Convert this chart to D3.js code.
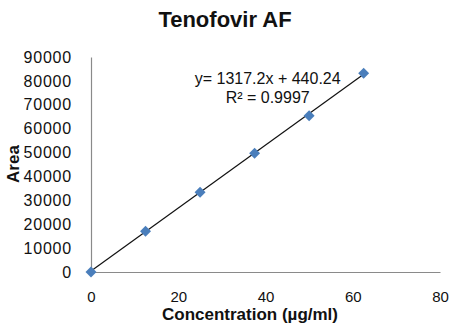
<!DOCTYPE html>
<html lang="en">
  <head>
    <meta charset="UTF-8" />
    <title>Tenofovir AF</title>
    <style>
      body { margin: 0; background: #fff; }
      text { font-family: "Liberation Sans", Arial, Helvetica, sans-serif; fill: #111; }
      .axis path { stroke: #8a8a8a; stroke-width: 1.2; }
      .axis text { fill: #111; }
    </style>
  </head>
  <body>
    <div id="chart"></div>

    <script src="https://cdn.jsdelivr.net/npm/d3@7"></script>
    <script>
    // data
    var concentration = [0, 12.5, 25, 37.5, 50, 62.5];
    var area = [0, 17100, 33400, 49700, 65400, 83200];
    var xTicks = [0, 20, 40, 60, 80];
    var yTicks = [0, 10000, 20000, 30000, 40000, 50000, 60000, 70000, 80000, 90000];
    var slope = 1317.2;
    var intercept = 440.24;
    var equationLabel = "y= 1317.2x + 440.24";
    var r2Label = "R² = 0.9997";

    var w = 450;
    var h = 328;

    var svg = d3.select("#chart")
                .append("svg")
                .attr("width", w)
                .attr("height", h);

    var xScale = d3.scaleLinear()
                   .domain([0, 80])
                   .range([91, 440]);

    var yScale = d3.scaleLinear()
                   .domain([0, 90000])
                   .range([272, 57]);

    // x axis
    var xAxis = d3.axisBottom(xScale)
                  .tickValues(xTicks)
                  .tickSize(0)
                  .tickPadding(19)
                  .tickFormat(d3.format("d"));
    svg.append("g")
       .attr("class", "axis x-axis")
       .attr("transform", "translate(0," + yScale(0) + ")")
       .call(xAxis)
       .selectAll("text")
       .style("font-size", "15px");

    // y axis
    var yAxis = d3.axisLeft(yScale)
                  .tickValues(yTicks)
                  .tickSize(0)
                  .tickPadding(19)
                  .tickFormat(d3.format("d"));
    svg.append("g")
       .attr("class", "axis y-axis")
       .attr("transform", "translate(" + xScale(0) + ",0)")
       .call(yAxis)
       .selectAll("text")
       .style("font-size", "16px")
       .style("letter-spacing", "0.8px");

    svg.selectAll(".axis .domain").attr("stroke", "#8a8a8a");

    // trend line
    var xEnd = d3.max(concentration);
    svg.append("line")
       .attr("class", "trend")
       .attr("stroke", "#111")
       .attr("stroke-width", 1.2)
       .attr("x1", xScale(0))
       .attr("y1", yScale(intercept))
       .attr("x2", xScale(xEnd))
       .attr("y2", yScale(slope * xEnd + intercept));

    // diamond markers
    var diamond = d3.symbol().type(d3.symbolSquare).size(60);
    svg.selectAll("path.pt")
       .data(concentration)
       .enter()
       .append("path")
       .attr("class", "pt")
       .attr("d", diamond)
       .attr("fill", "#4a7ebb")
       .attr("transform", function(d, i) {
         return "translate(" + xScale(d) + "," + yScale(area[i]) + ") rotate(45)";
       });

    // equation labels
    svg.append("text")
       .attr("x", xScale(40.5))
       .attr("y", yScale(78800))
       .attr("text-anchor", "middle")
       .style("font-size", "16px")
       .text(equationLabel);

    svg.append("text")
       .attr("x", xScale(40.5))
       .attr("y", yScale(70700))
       .attr("text-anchor", "middle")
       .style("font-size", "16px")
       .text(r2Label);

    // titles
    svg.append("text")
       .attr("x", 225)
       .attr("y", 27)
       .attr("text-anchor", "middle")
       .style("font-size", "22px")
       .style("font-weight", "bold")
       .text("Tenofovir AF");

    svg.append("text")
       .attr("x", 250)
       .attr("y", 320)
       .attr("text-anchor", "middle")
       .style("font-size", "17px")
       .style("font-weight", "bold")
       .text("Concentration (µg/ml)");

    svg.append("text")
       .attr("transform", "translate(19,164) rotate(-90)")
       .attr("text-anchor", "middle")
       .style("font-size", "17px")
       .style("font-weight", "bold")
       .text("Area");
    </script>
  </body>
</html>
